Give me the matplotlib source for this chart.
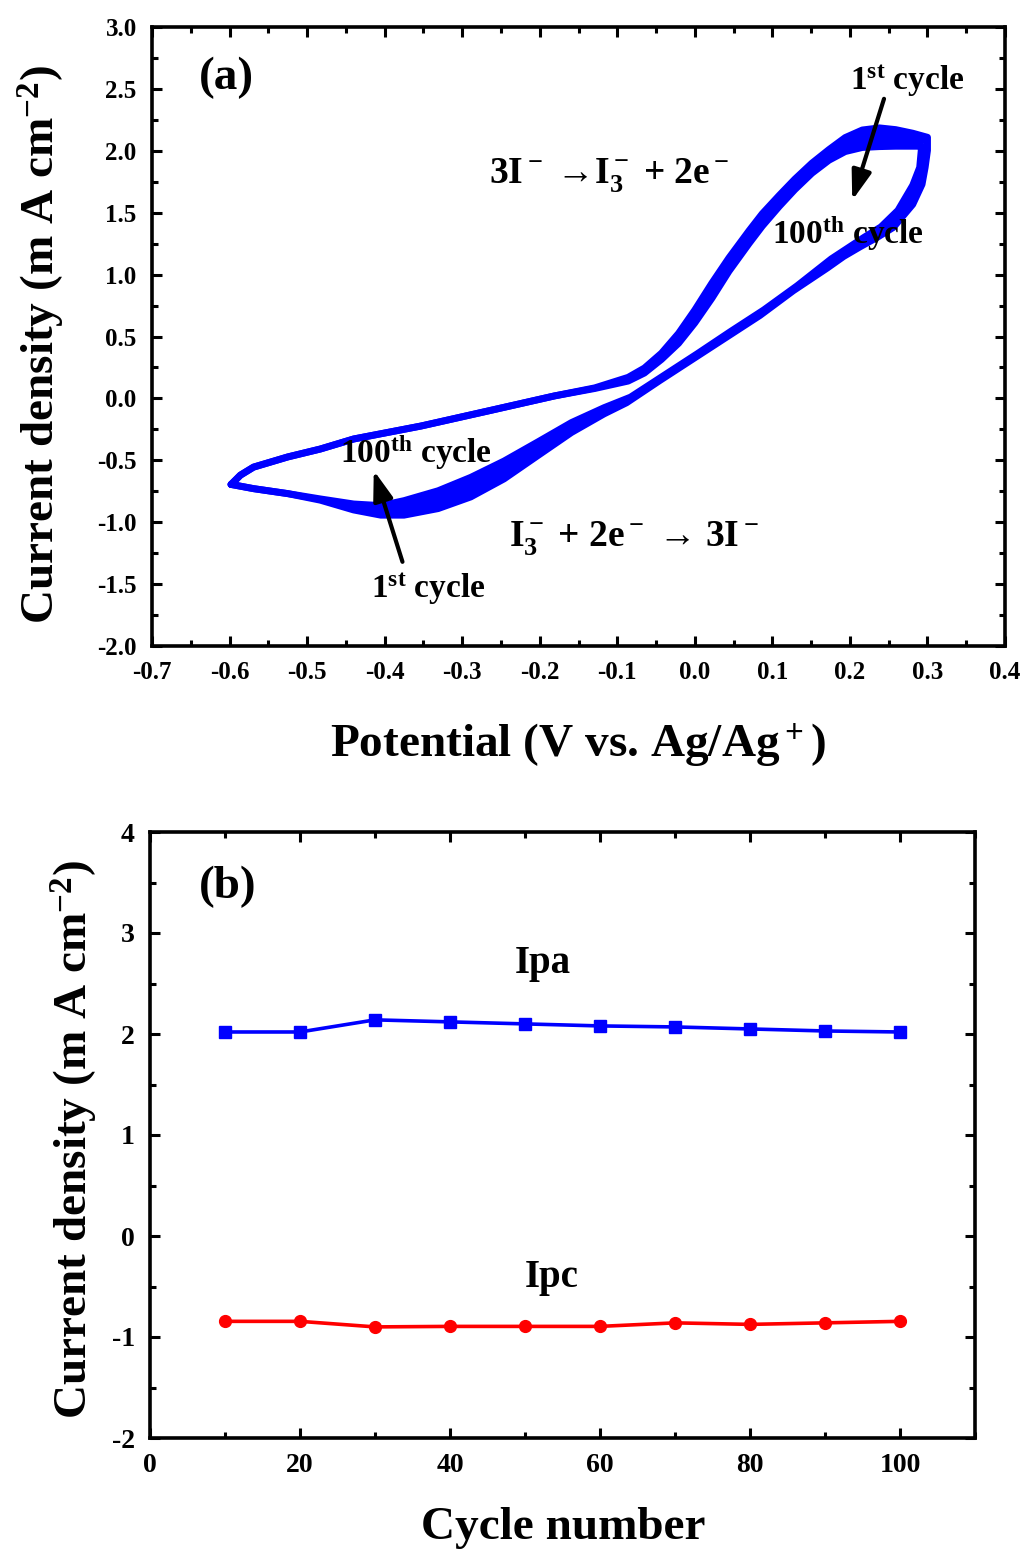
import matplotlib
matplotlib.use('Agg')
import matplotlib.pyplot as plt
from matplotlib.ticker import MultipleLocator, FuncFormatter
import numpy as np

plt.rcParams.update({
    'font.family': ['Liberation Serif', 'DejaVu Serif'],
    'font.weight': 'bold',
    'mathtext.fontset': 'custom',
    'mathtext.rm': 'Liberation Serif:bold',
    'mathtext.it': 'Liberation Serif:bold',
    'mathtext.bf': 'Liberation Serif:bold',
    'axes.unicode_minus': False,
})

# ---------------- data: panel (a) cyclic voltammograms ----------------
# 1st cycle, forward (anodic) sweep
c1_fwd_E = [-0.598, -0.586, -0.569, -0.525, -0.483, -0.440, -0.353, -0.267, -0.181,
            -0.129, -0.086, -0.065, -0.043, -0.021, 0.000, 0.022, 0.044,
            0.070, 0.087, 0.109, 0.129, 0.151, 0.173, 0.194, 0.216, 0.238,
            0.259, 0.281, 0.300]
c1_fwd_J = [-0.695, -0.620, -0.555, -0.473, -0.409, -0.328, -0.223, -0.102, 0.020,
            0.085, 0.170, 0.245, 0.365, 0.525, 0.714, 0.931, 1.135,
            1.355, 1.492, 1.641, 1.771, 1.900, 2.010, 2.107, 2.168, 2.185,
            2.171, 2.142, 2.109]
# 1st cycle, reverse (cathodic) sweep
c1_rev_E = [0.300, 0.300, 0.297, 0.293, 0.281, 0.256, 0.235, 0.213, 0.192,
            0.171, 0.127, 0.084, 0.041, -0.002, -0.045, -0.088, -0.117,
            -0.159, -0.202, -0.246, -0.289, -0.331, -0.375, -0.405, -0.440,
            -0.483, -0.525, -0.569, -0.598]
c1_rev_J = [2.109, 2.003, 1.866, 1.729, 1.567, 1.381, 1.300, 1.224, 1.147,
            1.054, 0.870, 0.670, 0.495, 0.320, 0.145, -0.035, -0.125,
            -0.275, -0.460, -0.650, -0.796, -0.890, -0.943, -0.943, -0.901,
            -0.822, -0.769, -0.729, -0.695]
# 100th cycle, forward sweep
c100_fwd_E = [-0.598, -0.586, -0.569, -0.525, -0.483, -0.440, -0.353, -0.267, -0.181,
              -0.129, -0.086, -0.065, -0.043, -0.021, 0.000, 0.022, 0.044,
              0.070, 0.087, 0.109, 0.129, 0.151, 0.173, 0.194, 0.216, 0.238,
              0.259, 0.293]
c100_fwd_J = [-0.695, -0.620, -0.555, -0.473, -0.409, -0.328, -0.223, -0.102, 0.020,
              0.080, 0.140, 0.205, 0.315, 0.445, 0.610, 0.809, 1.027,
              1.252, 1.392, 1.552, 1.687, 1.819, 1.924, 1.994, 2.027, 2.034,
              2.037, 2.037]
# 100th cycle, reverse sweep
c100_rev_E = [0.293, 0.292, 0.290, 0.281, 0.262, 0.240, 0.218, 0.176, 0.132,
              0.089, 0.046, 0.003, -0.040, -0.083, -0.117, -0.159, -0.202,
              -0.246, -0.289, -0.331, -0.375, -0.405, -0.440, -0.483, -0.525,
              -0.569, -0.598]
c100_rev_J = [2.037, 2.003, 1.866, 1.721, 1.519, 1.385, 1.300, 1.127, 0.910,
              0.715, 0.540, 0.360, 0.185, 0.010, -0.075, -0.195, -0.350,
              -0.506, -0.638, -0.746, -0.826, -0.866, -0.853, -0.812, -0.769,
              -0.729, -0.695]

# ---------------- data: panel (b) peak currents ----------------
cycles = [10, 20, 30, 40, 50, 60, 70, 80, 90, 100]
ipa = [2.02, 2.02, 2.14, 2.12, 2.10, 2.08, 2.07, 2.05, 2.03, 2.02]
ipc = [-0.845, -0.845, -0.90, -0.895, -0.895, -0.895, -0.86, -0.875, -0.86, -0.845]

fig = plt.figure(figsize=(10.21, 15.51), dpi=100)
W, H = 1021.0, 1551.0
axa = fig.add_axes([152 / W, 1 - 646 / H, (1005 - 152) / W, (646 - 27) / H])
axb = fig.add_axes([150 / W, 1 - 1438 / H, (975 - 150) / W, (1438 - 832) / H])


def style(ax, fs, pad):
    for s in ax.spines.values():
        s.set_linewidth(2.6)
    ax.tick_params(which='both', direction='in', top=True, right=True, width=2.2)
    ax.tick_params(which='major', length=7.5)
    ax.tick_params(which='minor', length=4.5)
    ax.tick_params(axis='both', labelsize=fs, pad=pad)


BLUE = '#0000FF'
RED = '#FF0000'

# ---- panel (a) ----
axa.fill(np.r_[c1_fwd_E, c100_fwd_E[::-1]], np.r_[c1_fwd_J, c100_fwd_J[::-1]],
         color=BLUE, lw=0)
axa.fill(np.r_[c1_rev_E, c100_rev_E[::-1]], np.r_[c1_rev_J, c100_rev_J[::-1]],
         color=BLUE, lw=0)
axa.plot(np.r_[c1_fwd_E, c1_rev_E], np.r_[c1_fwd_J, c1_rev_J], color=BLUE,
         lw=5, solid_joinstyle='round', solid_capstyle='round')
axa.plot(np.r_[c100_fwd_E, c100_rev_E], np.r_[c100_fwd_J, c100_rev_J], color=BLUE,
         lw=5, solid_joinstyle='round', solid_capstyle='round')

axa.set_xlim(-0.7, 0.4)
axa.set_ylim(-2.0, 3.0)
axa.xaxis.set_major_locator(MultipleLocator(0.1))
axa.xaxis.set_minor_locator(MultipleLocator(0.05))
axa.yaxis.set_major_locator(MultipleLocator(0.5))
axa.yaxis.set_minor_locator(MultipleLocator(0.25))
fmt1 = FuncFormatter(lambda v, p: "0.0" if abs(v) < 1e-9 else f"{v:.1f}")
axa.xaxis.set_major_formatter(fmt1)
axa.yaxis.set_major_formatter(fmt1)
style(axa, 18, 11)

axa.text(-0.604, 2.585, "(a)", fontsize=34, ha='center', va='center')
axa.text(-0.111, 1.737, r"3I$^-$ →I$_3^-$ + 2e$^-$", fontsize=27,
         ha='center', va='baseline')
axa.text(-0.078, -1.195, r"I$_3^-$ + 2e$^-$ → 3I$^-$", fontsize=27,
         ha='center', va='baseline')
axa.text(0.274, 2.49, r"1$^{\rm st}$ cycle", fontsize=24, ha='center', va='baseline')
axa.text(0.198, 1.25, r"100$^{\rm th}$ cycle", fontsize=24, ha='center', va='baseline')
axa.text(-0.360, -0.525, r"100$^{\rm th}$ cycle", fontsize=24, ha='center', va='baseline')
axa.text(-0.344, -1.615, r"1$^{\rm st}$ cycle", fontsize=24, ha='center', va='baseline')

arrow_kw = dict(arrowstyle='-|>,head_length=0.9,head_width=0.3', lw=3,
                color='black', shrinkA=0, shrinkB=0, mutation_scale=20)
axa.annotate('', xy=(0.203, 1.60), xytext=(0.244, 2.42), arrowprops=arrow_kw)
axa.annotate('', xy=(-0.414, -0.582), xytext=(-0.377, -1.32), arrowprops=arrow_kw)

# ---- panel (b) ----
axb.plot(cycles, ipa, color=BLUE, lw=2.6, marker='s', ms=8.5)
axb.plot(cycles, ipc, color=RED, lw=2.6, marker='o', ms=8.5)
axb.set_xlim(0, 110)
axb.set_ylim(-2, 4)
axb.xaxis.set_major_locator(MultipleLocator(20))
axb.xaxis.set_minor_locator(MultipleLocator(10))
axb.yaxis.set_major_locator(MultipleLocator(1))
axb.yaxis.set_minor_locator(MultipleLocator(0.5))
axb.xaxis.set_major_formatter(FuncFormatter(lambda v, p: f"{v:.0f}"))
axb.yaxis.set_major_formatter(FuncFormatter(lambda v, p: f"{v:.0f}"))
style(axb, 20, 11)

axb.text(10.4, 3.46, "(b)", fontsize=34, ha='center', va='center')
axb.text(52.4, 2.60, "Ipa", fontsize=28, ha='center', va='baseline')
axb.text(53.5, -0.50, "Ipc", fontsize=28, ha='center', va='baseline')

# ---- axis labels ----
fig.text(578 / W, 1 - 745 / H, r"Potential (V vs. Ag/Ag$^+$)", fontsize=34,
         ha='center', va='center')
fig.text(42 / W, 1 - 345 / H, r"Current density (m A cm$^{-2}$)", fontsize=34,
         ha='center', va='center', rotation=90)
fig.text(563 / W, 1 - 1528 / H, "Cycle number", fontsize=34, ha='center', va='center')
fig.text(75 / W, 1 - 1140 / H, r"Current density (m A cm$^{-2}$)", fontsize=34,
         ha='center', va='center', rotation=90)

fig.savefig('out.png', dpi=100)
